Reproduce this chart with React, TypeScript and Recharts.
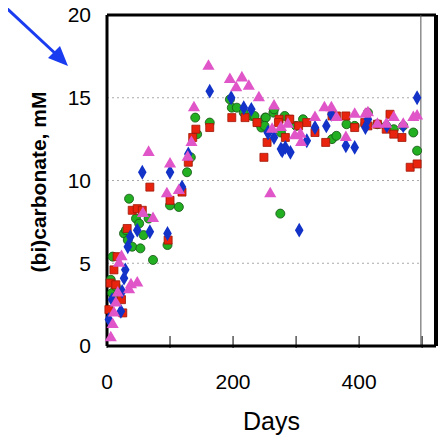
import React from 'react';
import { ScatterChart, Scatter, XAxis, YAxis, ZAxis, ReferenceLine, Label } from 'recharts';

const green: [number, number][] = [[9,5.4],[6,4.0],[8,3.2],[14,3.6],[17,3.1],[27,6.8],[30,7.0],[35,8.9],[33,6.4],[40,6.0],[46,7.7],[51,7.4],[53,5.9],[58,6.7],[66,7.7],[73,5.2],[96,6.1],[100,8.5],[114,8.4],[127,10.5],[133,11.4],[143,12.8],[140,13.8],[163,13.5],[195,14.9],[198,14.4],[206,14.4],[217,14.1],[230,13.9],[239,13.5],[245,13.2],[251,13.8],[264,14.1],[275,8.0],[282,13.9],[276,12.9],[234,13.9],[252,13.8],[250,13.3],[265,14.3],[300,13.3],[311,13.7],[357,12.5],[364,12.7],[380,13.4],[393,13.3],[410,13.4],[414,14.1],[429,13.4],[443,13.3],[455,13.1],[470,13.3],[486,12.9],[492,11.8]];
const red: [number, number][] = [[3,2.2],[5,3.8],[11,4.6],[16,5.4],[14,3.7],[23,2.8],[25,2.0],[32,7.1],[40,8.2],[48,8.3],[56,8.2],[68,9.6],[97,6.4],[100,8.8],[119,9.3],[129,11.1],[136,12.6],[141,13.1],[163,13.2],[198,13.8],[219,13.8],[238,13.5],[249,11.4],[254,12.3],[273,13.7],[289,13.7],[272,13.5],[283,12.6],[290,13.7],[304,13.3],[317,13.5],[330,12.9],[347,12.3],[357,13.9],[364,13.9],[379,13.9],[393,13.2],[409,13.5],[414,13.3],[429,13.4],[443,13.1],[449,14.0],[455,12.8],[468,12.6],[481,10.8],[492,11.0]];
const blue: [number, number][] = [[3,1.6],[8,2.8],[22,2.1],[24,3.3],[27,4.1],[29,4.6],[33,6.0],[37,6.6],[48,7.0],[56,10.5],[68,6.9],[96,6.8],[100,10.5],[119,9.6],[129,11.6],[163,15.4],[197,15.0],[217,14.4],[229,14.3],[256,12.9],[265,12.6],[276,11.9],[283,12.0],[255,12.9],[278,11.8],[291,11.7],[305,7.0],[317,12.4],[330,13.2],[348,13.3],[356,14.0],[379,12.1],[393,12.0],[410,13.2],[414,13.7],[444,13.3],[470,13.3],[492,15.0]];
const magenta: [number, number][] = [[6,0.5],[9,1.3],[11,2.0],[14,2.6],[17,3.2],[19,5.0],[23,5.4],[35,3.4],[38,3.7],[48,3.8],[66,11.7],[57,8.0],[73,7.7],[95,9.2],[100,11.0],[114,9.4],[128,11.4],[134,12.3],[138,14.4],[161,16.9],[195,16.1],[205,15.6],[214,16.2],[225,15.7],[241,15.0],[259,9.2],[265,14.5],[276,13.2],[287,13.4],[262,13.1],[298,12.7],[308,12.3],[307,12.8],[330,13.8],[345,14.4],[356,14.4],[364,13.8],[379,12.6],[393,14.0],[410,14.0],[414,14.1],[429,13.4],[455,13.8],[443,13.4],[470,13.4],[486,13.8],[492,13.9]];

const xTicks = [0, 100, 200, 300, 400, 500];
const yTicks = [0, 5, 10, 15, 20];
const xLabelTicks = [0, 200, 400];

const toObj = (a: [number, number][]) => a.map(([x, y]) => ({ x, y }));
const font = 'Liberation Sans, Arial, sans-serif';

const YLabel = () => (
  <text x={46} y={182} transform="rotate(-90 46 182)" textAnchor="middle" fill="#000" fontSize={21} fontWeight="bold" fontFamily={font}>
    (bi)carbonate,  mM
  </text>
);

export default function App() {
  return (
    <div style={{ position: 'relative', margin: '-8px 0 0 -8px', width: 446, height: 439, fontFamily: font }}>
      <ScatterChart width={446} height={439} margin={{ top: 15, right: 10, bottom: 53, left: 0 }}>
        <XAxis type="number" dataKey="x" domain={[0, 522]} ticks={xTicks} height={40}
          tickFormatter={(v: number) => (xLabelTicks.includes(v) ? String(v) : '')}
          stroke="#000" strokeWidth={3} tick={{ fill: '#000', fontSize: 21, fontFamily: font, dy: 14 }}
          tickLine={{ stroke: '#000', strokeWidth: 1, transform: 'translate(0,-10)' }} tickSize={12}
          label={{ value: 'Days', position: 'insideBottom', offset: -44, fill: '#000', fontSize: 25, fontFamily: font }} />
        <YAxis type="number" dataKey="y" domain={[0, 20]} ticks={yTicks} width={107}
          stroke="#000" strokeWidth={3} tick={{ fill: '#000', fontSize: 21, fontFamily: font }} tickSize={14} tickLine={false}>
          <Label content={<YLabel />} />
        </YAxis>
        <ZAxis range={[38, 38]} />
        {[5, 10, 15].map((v) => (
          <ReferenceLine key={v} segment={[{ x: 0, y: v }, { x: 498, y: v }]} stroke="#aaa" strokeDasharray="2 3" />
        ))}
        <ReferenceLine y={20} stroke="#000" strokeWidth={3} />
        <ReferenceLine x={522} stroke="#000" strokeWidth={4} />
        <ReferenceLine x={498} stroke="#555" strokeWidth={1} />
        <Scatter data={toObj(green)} shape="circle" fill="#22b022" stroke="#145214" strokeWidth={0.8} isAnimationActive={false} />
        <Scatter data={toObj(red)} shape="square" fill="#e8230e" stroke="#a01808" strokeWidth={0.8} isAnimationActive={false} />
        <Scatter data={toObj(blue)} shape="diamond" fill="#1232c8" isAnimationActive={false} />
        <Scatter data={toObj(magenta)} shape="triangle" fill="#e055c8" isAnimationActive={false} />
      </ScatterChart>
      <svg width={446} height={439} style={{ position: 'absolute', left: 0, top: 0, pointerEvents: 'none' }}>
        <line x1={0} y1={2} x2={58} y2={56} stroke="#1a3cf0" strokeWidth={3} />
        <polygon points="68,66 48,58 60,46" fill="#1a3cf0" />
      </svg>
    </div>
  );
}
